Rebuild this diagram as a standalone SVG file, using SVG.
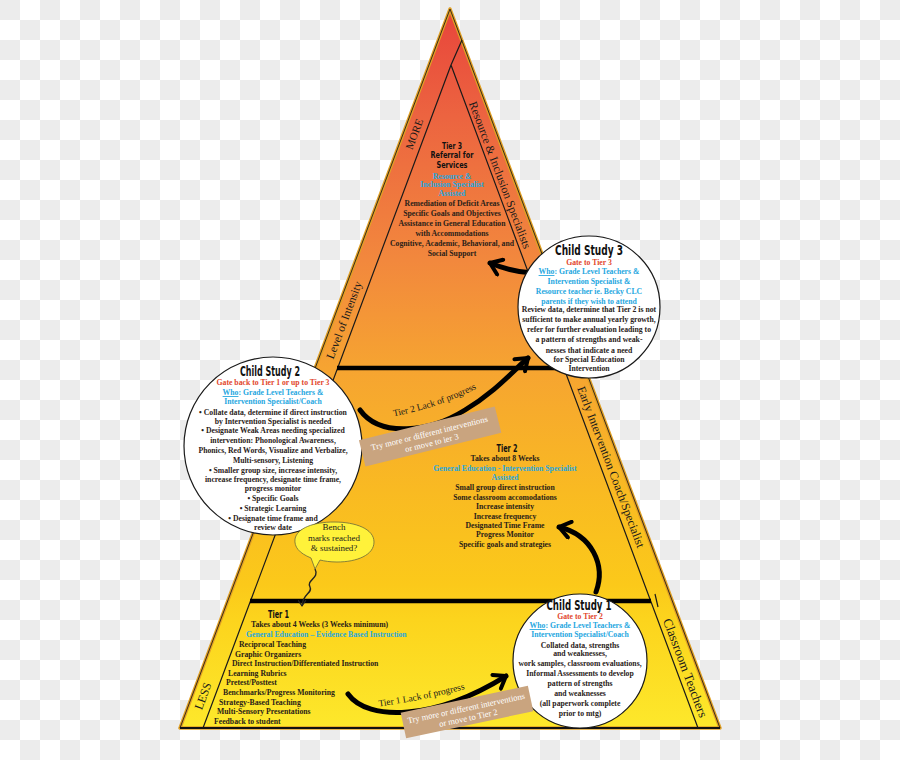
<svg xmlns="http://www.w3.org/2000/svg" width="900" height="760" viewBox="0 0 900 760">
<defs>
<pattern id="chk" width="40" height="40" patternUnits="userSpaceOnUse">
<rect width="40" height="40" fill="#ffffff"/>
<rect width="20" height="20" fill="#ececec"/>
<rect x="20" y="20" width="20" height="20" fill="#ececec"/>
</pattern>
<linearGradient id="pyr" gradientUnits="userSpaceOnUse" x1="0" y1="9" x2="0" y2="728">
<stop offset="0" stop-color="#e8443b"/>
<stop offset="0.15" stop-color="#ec6440"/>
<stop offset="0.35" stop-color="#f2883d"/>
<stop offset="0.5" stop-color="#f6a431"/>
<stop offset="0.67" stop-color="#f9ba22"/>
<stop offset="0.8" stop-color="#fbc91a"/>
<stop offset="0.85" stop-color="#fcd41d"/>
<stop offset="1" stop-color="#fde82b"/>
</linearGradient>
<marker id="ah" viewBox="0 0 20 20" refX="15" refY="10" markerWidth="4" markerHeight="4" orient="auto" markerUnits="strokeWidth">
<path d="M4 2 L15 10 L4 18" fill="none" stroke="#000" stroke-width="4" stroke-linecap="round" stroke-linejoin="round"/>
</marker>
<marker id="ahs" viewBox="0 0 10 10" refX="8" refY="5" markerWidth="9" markerHeight="9" orient="auto" markerUnits="userSpaceOnUse">
<path d="M2 1 L8 5 L2 9" fill="none" stroke="#222" stroke-width="1.4" stroke-linecap="round" stroke-linejoin="round"/>
</marker>
<path id="lp2" d="M 390,417 Q 436,409 480,387"/>
<path id="lp1" d="M 375,707 Q 421,701 469,688"/>
</defs>
<style>
.circ{fill:#fff;stroke:#1a1a1a;stroke-width:1.2}
.ttl{font-family:"DejaVu Sans Condensed","DejaVu Sans",sans-serif;font-weight:bold;font-size:14px;fill:#111;text-anchor:middle}
.hd{font-family:"DejaVu Sans Condensed","DejaVu Sans",sans-serif;font-weight:bold;font-size:10.5px;fill:#111}
.hs{font-size:8.5px}
.b{font-family:"Liberation Serif","DejaVu Serif",serif;font-weight:bold;font-size:8.8px;fill:#2a2118}
.c{text-anchor:middle}
.blue{fill:#26a7df}
.red{fill:#e2472c}
.side{font-family:"Liberation Serif","DejaVu Serif",serif;font-size:12px;fill:#1a1a1a;text-anchor:middle}
.lack{font-family:"Liberation Serif","DejaVu Serif",serif;font-size:9.4px;fill:#1a1a1a;text-anchor:middle}
.tan{fill:#c9a47f}
.tant{font-family:"Liberation Serif","DejaVu Serif",serif;font-size:8.6px;fill:#fff;text-anchor:middle}
.arw{fill:none;stroke:#000;stroke-width:5;stroke-linecap:round;marker-end:url(#ah)}
.band{stroke:#1a1a1a;stroke-width:1.2;fill:none}
.bar{stroke:#000;stroke-width:4.5}
.bub{font-family:"Liberation Serif","DejaVu Serif",serif;font-size:9px;fill:#1a1a1a;text-anchor:middle}
</style>
<rect width="900" height="760" fill="url(#chk)"/>

<g id="pyramid">
<polygon points="450,9 180,728 720,728" fill="url(#pyr)" stroke="#e0a024" stroke-width="3.5" stroke-linejoin="round"/>
<polygon points="450,9 180,728 720,728" fill="none" stroke="#3a2a1a" stroke-width="1"/>
<line x1="180" y1="728" x2="720" y2="728" stroke="#111" stroke-width="2.2"/>
<path class="band" d="M462,40 L451,65 M451,65 L203,728 M451,65 L698,728 M655,594 L658,607"/>
<line class="bar" x1="337" y1="368" x2="566" y2="368"/>
<line class="bar" x1="250" y1="601" x2="651" y2="601"/>
<text class="side" transform="translate(414 134) rotate(-69.4)" y="4" style="font-size:11px">MORE</text>
<text class="side" transform="translate(344 320) rotate(-69.4)" y="4" style="font-size:11.5px">Level of Intensity</text>
<text class="side" transform="translate(203 696) rotate(-69.4)" y="4">LESS</text>
<text class="side" transform="translate(500 175) rotate(69.4)" y="4" style="font-size:11.8px">Resource &amp; Inclusion Specialists</text>
<text class="side" transform="translate(611 467) rotate(69.4)" y="4">Early Intervention Coach/Specialist</text>
<text class="side" transform="translate(685 668) rotate(69.4)" y="4" style="font-size:13px">Classroom Teachers</text>
</g>

<g id="tier3">
<text class="hd hs c" x="452" y="148.5" textLength="20" lengthAdjust="spacingAndGlyphs">Tier 3</text>
<text class="hd hs c" x="452" y="158" textLength="43" lengthAdjust="spacingAndGlyphs">Referral for</text>
<text class="hd hs c" x="452" y="167.5" textLength="31" lengthAdjust="spacingAndGlyphs">Services</text>
<g class="b c" transform="translate(452 0) scale(0.88 1)">
<text class="blue" y="179">Resource &amp;</text>
<text class="blue" y="187.5">Inclusion Specialist</text>
<text class="blue" y="196">Assisted</text>
<text y="206">Remediation of Deficit Areas</text>
<text y="216">Specific Goals and Objectives</text>
<text y="226">Assistance in General Education</text>
<text y="236">with Accommodations</text>
<text y="246">Cognitive, Academic, Behavioral, and</text>
<text y="256">Social Support</text>
</g>
</g>

<g id="tier2">
<text class="hd c" x="507" y="452" textLength="21" lengthAdjust="spacingAndGlyphs">Tier 2</text>
<g class="b c" transform="translate(505 0) scale(0.88 1)">
<text y="461">Takes about 8 Weeks</text>
<text class="blue" y="471">General Education - Intervention Specialist</text>
<text class="blue" y="480">Assisted</text>
<text y="490">Small group direct instruction</text>
<text y="500">Some classroom accomodations</text>
<text y="509">Increase intensity</text>
<text y="519">Increase frequency</text>
<text y="528">Designated Time Frame</text>
<text y="537">Progress Monitor</text>
<text y="547">Specific goals and strategies</text>
</g>
</g>

<g id="tier1">
<text class="hd" x="268" y="618" textLength="21" lengthAdjust="spacingAndGlyphs">Tier 1</text>
<g class="b" transform="scale(0.88 1)">
<text x="285.2" y="627">Takes about 4 Weeks (3 Weeks minimum)</text>
<text class="blue" x="279.5" y="637">General Education – Evidence Based Instruction</text>
<text x="271.6" y="647">Reciprocal Teaching</text>
<text x="267" y="657">Graphic Organizers</text>
<text x="263.6" y="666">Direct Instruction/Differentiated Instruction</text>
<text x="259.1" y="676">Learning Rubrics</text>
<text x="256.8" y="685">Pretest/Posttest</text>
<text x="253.4" y="695">Benchmarks/Progress Monitoring</text>
<text x="248.9" y="705">Strategy-Based Teaching</text>
<text x="246.6" y="714">Multi-Sensory Presentations</text>
<text x="243.2" y="724">Feedback to student</text>
</g>
</g>

<g id="connectors">
<path class="arw" d="M360,410 C380,438 430,432 465,410 C495,392 512,372 528,358"/>
<path class="arw" d="M533,273 Q512,272 490,263"/>
<path class="arw" d="M596,592 C606,565 592,535 559,527"/>
<path class="arw" d="M348,694 C368,722 435,720 506,676"/>
<path d="M315,569 C320,578 306,580 310,587 C313,593 302,594 302,606" fill="none" stroke="#222" stroke-width="1.4" marker-end="url(#ahs)"/>
<text class="lack"><textPath href="#lp2" startOffset="50%">Tier 2 Lack of progress</textPath></text>
<text class="lack"><textPath href="#lp1" startOffset="50%">Tier 1 Lack of progress</textPath></text>
</g>

<g id="cs3">
<circle class="circ" cx="589" cy="307" r="71"/>
<text class="ttl" x="589" y="255" textLength="68" lengthAdjust="spacingAndGlyphs">Child Study 3</text>
<g class="b c" transform="translate(589 0) scale(0.88 1)">
<text class="red" y="265">Gate to Tier 3</text>
<text class="blue" y="274"><tspan text-decoration="underline">Who</tspan>: Grade Level Teachers &amp;</text>
<text class="blue" y="284">Intervention Specialist &amp;</text>
<text class="blue" y="294">Resource teacher ie. Becky CLC</text>
<text class="blue" y="304">parents if they wish to attend</text>
<text y="312">Review data, determine that Tier 2 is not</text>
<text y="322">sufficient to make annual yearly growth,</text>
<text y="332">refer for further evaluation leading to</text>
<text y="342">a  pattern of strengths and weak-</text>
<text y="353">nesses that indicate a need</text>
<text y="362">for Special Education</text>
<text y="371">Intervention</text>
</g>
</g>

<g id="cs2">
<circle class="circ" cx="273" cy="446" r="89"/>
<text class="ttl" x="270" y="376" textLength="60" lengthAdjust="spacingAndGlyphs">Child Study 2</text>
<g class="b c" transform="translate(273 0) scale(0.88 1)">
<text class="red" y="385">Gate back to Tier 1 or up to Tier 3</text>
<text class="blue" y="395"><tspan text-decoration="underline">Who</tspan>: Grade Level Teachers &amp;</text>
<text class="blue" y="404">Intervention Specialist/Coach</text>
<text y="415">• Collate data, determine if direct instruction</text>
<text y="424">by Intervention Specialist  is needed</text>
<text y="433">• Designate Weak Areas needing specialized</text>
<text y="443">intervention: Phonological Awareness,</text>
<text y="453">Phonics, Red Words, Visualize and Verbalize,</text>
<text y="463">Multi-sensory, Listening</text>
<text y="473">• Smaller group size, increase intensity,</text>
<text y="482">increase frequency, designate time frame,</text>
<text y="491">progress monitor</text>
<text y="501">• Specific Goals</text>
<text y="511">• Strategic Learning</text>
<text y="521">• Designate time frame and</text>
<text y="530">review date</text>
</g>
</g>

<g id="cs1">
<circle class="circ" cx="580" cy="661" r="67"/>
<text class="ttl" x="579" y="610" textLength="65" lengthAdjust="spacingAndGlyphs">Child Study 1</text>
<g class="b c" transform="translate(580 0) scale(0.88 1)">
<text class="red" y="619">Gate to Tier 2</text>
<text class="blue" y="628"><tspan text-decoration="underline">Who</tspan>: Grade Level Teachers &amp;</text>
<text class="blue" y="637">Intervention Specialist/Coach</text>
<text y="648">Collated data, strengths</text>
<text y="656">and weaknesses,</text>
<text y="666">work samples, classroom evaluations,</text>
<text y="676">Informal Assessments to develop</text>
<text y="686">pattern of strengths</text>
<text y="696">and weaknesses</text>
<text y="706">(all paperwork complete</text>
<text y="716">prior to mtg)</text>
</g>
</g>

<g id="note2" transform="translate(430 436) rotate(-14)">
<rect class="tan" x="-70" y="-13" width="140" height="27"/>
<text class="tant" y="0">Try more or different interventions</text>
<text class="tant" y="10">or move to ier 3</text>
</g>

<g id="note1" transform="translate(467 712) rotate(-12)">
<rect class="tan" x="-65" y="-13" width="130" height="26"/>
<text class="tant" y="-1">Try more or different interventions</text>
<text class="tant" y="9">or move to Tier 2</text>
</g>

<g id="bench">
<path d="M315,569 L311,558 C299,553 294,547 295,539 C297,528 314,522 334,522 C356,522 374,529 374,542 C374,555 357,562 337,562 C330,562 324,561 320,560 Z" fill="#fff23a" stroke="#6b6b3a" stroke-width="0.8"/>
<text class="bub" x="334" y="530">Bench</text>
<text class="bub" x="334" y="541">marks reached</text>
<text class="bub" x="334" y="551">&amp; sustained?</text>
</g>
</svg>
